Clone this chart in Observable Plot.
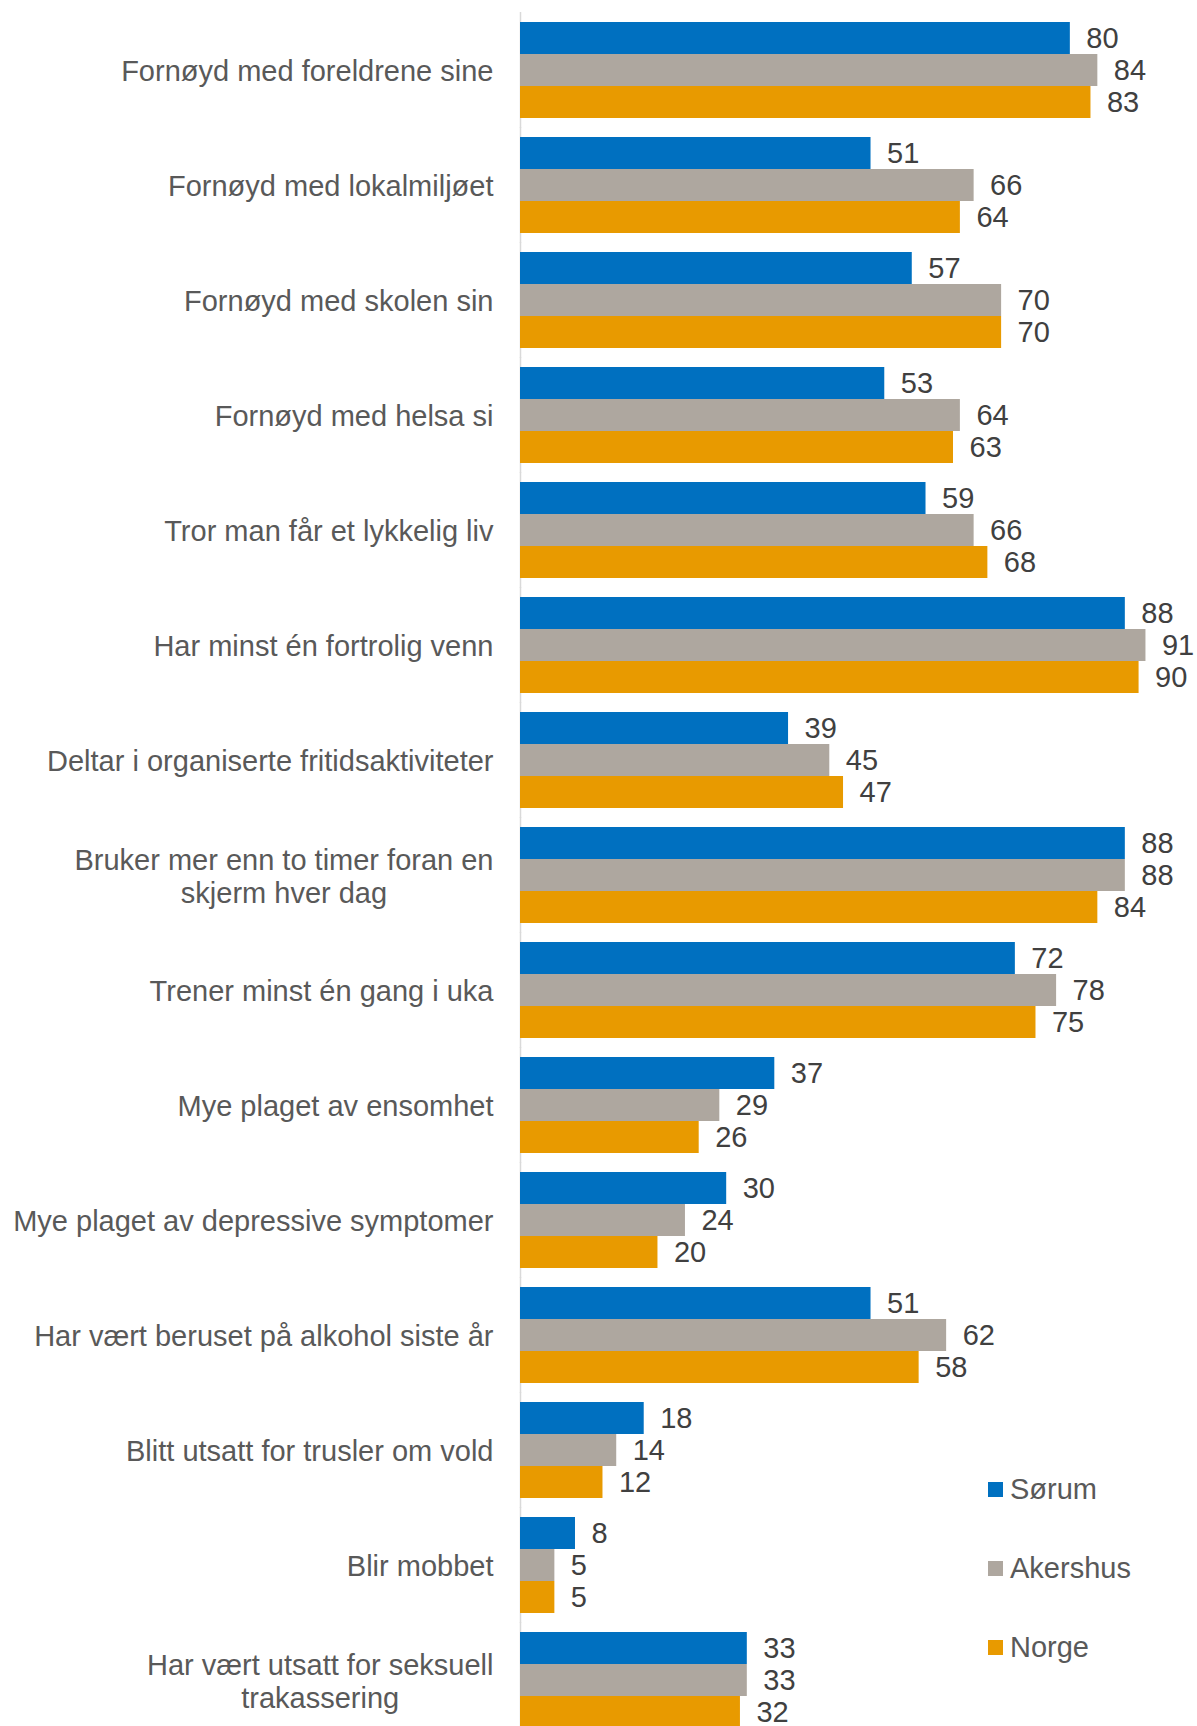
<!DOCTYPE html>
<html>
<head>
<meta charset="utf-8">
<script src="https://cdn.jsdelivr.net/npm/d3@7"></script>
<script src="https://cdn.jsdelivr.net/npm/@observablehq/plot@0.6"></script>
<style>
  html, body { margin: 0; padding: 0; background: #fff; }
  #wrap { position: relative; width: 1197px; height: 1726px; overflow: hidden; font-family: "Liberation Sans", Arial, sans-serif; }
  #wrap svg { display: block; }
  #legend { position: absolute; left: 988px; top: 1474px; }
  .item { display: flex; align-items: center; height: 30px; margin-bottom: 49px; font-size: 29px; color: #595959; }
  .sw { width: 15px; height: 15px; margin-right: 7px; }
</style>
</head>
<body>
<div id="wrap"><div id="legend"></div></div>
<script>
const categories = [
  "Fornøyd med foreldrene sine",
  "Fornøyd med lokalmiljøet",
  "Fornøyd med skolen sin",
  "Fornøyd med helsa si",
  "Tror man får et lykkelig liv",
  "Har minst én fortrolig venn",
  "Deltar i organiserte fritidsaktiviteter",
  "Bruker mer enn to timer foran en\nskjerm hver dag",
  "Trener minst én gang i uka",
  "Mye plaget av ensomhet",
  "Mye plaget av depressive symptomer",
  "Har vært beruset på alkohol siste år",
  "Blitt utsatt for trusler om vold",
  "Blir mobbet",
  "Har vært utsatt for seksuell\ntrakassering"
];
const seriesNames = ["Sørum", "Akershus", "Norge"];
const seriesColors = ["#0070C0", "#AEA79F", "#E89A00"];
const sorum    = [80, 51, 57, 53, 59, 88, 39, 88, 72, 37, 30, 51, 18, 8, 33];
const akershus = [84, 66, 70, 64, 66, 91, 45, 88, 78, 29, 24, 62, 14, 5, 33];
const norge    = [83, 64, 70, 63, 68, 90, 47, 84, 75, 26, 20, 58, 12, 5, 32];

const seriesValues = [sorum, akershus, norge];
const rows = [];
categories.forEach((c, i) => {
  seriesNames.forEach((s, k) => rows.push({cat: c, series: s, value: seriesValues[k][i]}));
});
const catRows = categories.map(c => ({cat: c}));

const font = '"Liberation Sans", Arial, sans-serif';

const chart = Plot.plot({
  width: 1197,
  height: 1726,
  marginLeft: 520,
  marginRight: 0,
  marginTop: 20,
  marginBottom: -3,
  style: {fontFamily: font, background: "white", overflow: "visible"},
  x: {domain: [0, 98.5], axis: null},
  y: {domain: seriesNames, padding: 0, axis: null},
  fy: {domain: categories, paddingInner: 0.1486, paddingOuter: 0, axis: null},
  color: {domain: seriesNames, range: seriesColors},
  marks: [
    Plot.ruleX([0], {stroke: "#d9d9d9", strokeWidth: 1.5, insetTop: -9, insetBottom: -9}),
    Plot.barX(rows, {x: "value", y: "series", fy: "cat", fill: "series"}),
    Plot.text(rows, {x: "value", y: "series", fy: "cat", text: d => String(d.value), dx: 16, textAnchor: "start", fontSize: 29, fill: "#404040"}),
    Plot.text(catRows, {fy: "cat", text: "cat", frameAnchor: "left", textAnchor: "end", dx: -27, lineHeight: 1.14, fontSize: 29, fill: "#595959"})
  ]
});

document.getElementById("wrap").prepend(chart);

// center the lines of multi-line category labels within their right-aligned block
chart.querySelectorAll("text").forEach(t => {
  const spans = t.querySelectorAll("tspan");
  if (spans.length < 2) return;
  const w = t.getBBox().width;
  t.setAttribute("text-anchor", "middle");
  spans.forEach(s => s.setAttribute("x", -w / 2));
});

const legend = document.getElementById("legend");
seriesNames.forEach((s, k) => {
  const item = document.createElement("div");
  item.className = "item";
  const sw = document.createElement("div");
  sw.className = "sw";
  sw.style.background = seriesColors[k];
  const lab = document.createElement("span");
  lab.textContent = s;
  item.appendChild(sw);
  item.appendChild(lab);
  legend.appendChild(item);
});
</script>
</body>
</html>
